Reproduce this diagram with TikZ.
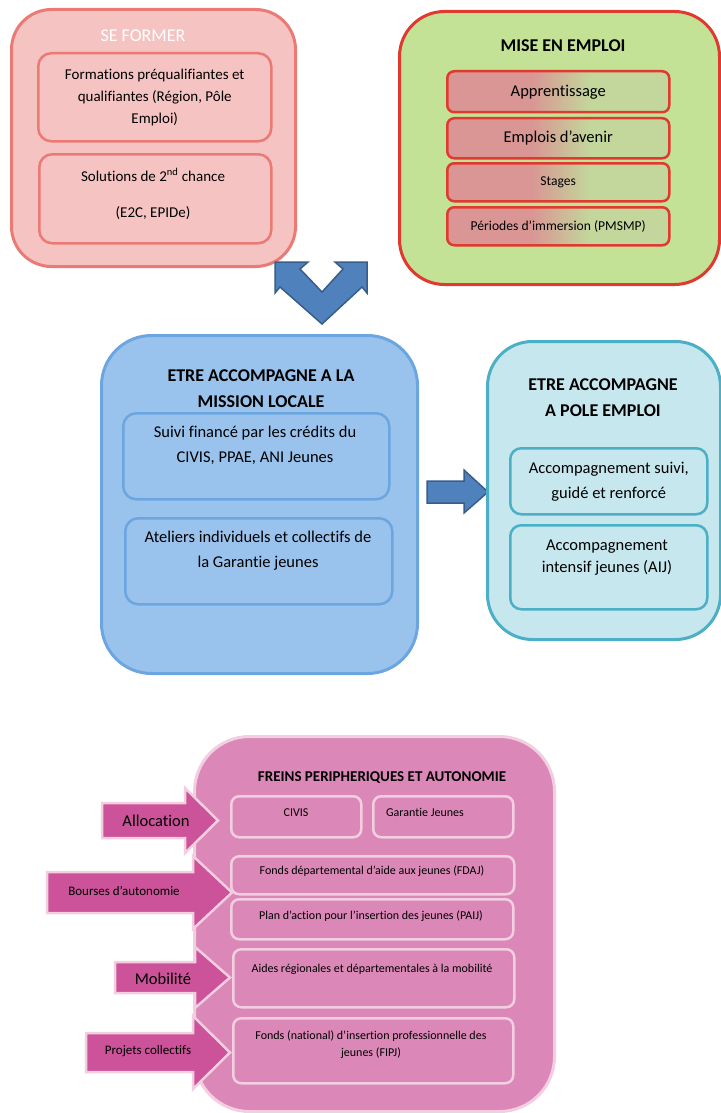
\documentclass[tikz,border=0pt]{standalone}
\usepackage{fontspec}
\setmainfont{Carlito}[Ligatures=NoCommon]

\definecolor{roseclair}{HTML}{F5C3C2}
\definecolor{saumon}{HTML}{EB7A75}
\definecolor{vertclair}{HTML}{C3E295}
\definecolor{rougevif}{HTML}{E0392F}
\definecolor{roseterne}{HTML}{D99694}
\definecolor{vertterne}{HTML}{C3D69B}
\definecolor{bleuclair}{HTML}{99C3EC}
\definecolor{bleubord}{HTML}{6CA6E0}
\definecolor{cyanclair}{HTML}{C6E7EE}
\definecolor{cyanbord}{HTML}{4BAFC6}
\definecolor{rosefonce}{HTML}{DB88B8}
\definecolor{rosepale}{HTML}{F2CEE0}
\definecolor{flecherose}{HTML}{CC5299}
\definecolor{bleufleche}{HTML}{4F81BD}
\definecolor{bleufonce}{HTML}{385D8A}

\pgfdeclarehorizontalshading{rosevert}{100bp}{color(0bp)=(roseterne); color(44bp)=(roseterne); color(57bp)=(vertterne); color(100bp)=(vertterne)}

\tikzset{
  cadre/.style={draw, anchor=north west, inner sep=0pt, line width=3pt},
  bloc/.style={draw, anchor=north west, inner sep=0pt, line width=2.5pt, rounded corners=13pt},
  txt/.style={align=center, inner sep=0pt, font=\fontsize{16.5}{25}\selectfont},
  titre/.style={align=center, inner sep=0pt, font=\bfseries\fontsize{18}{26}\selectfont},
  petit/.style={align=center, inner sep=0pt, font=\fontsize{12}{17}\selectfont},
  fleche/.style={fill=flecherose, draw=rosepale, line width=2.5pt},
  bleue/.style={fill=bleufleche, draw=bleufonce, line width=1.5pt}
}

\begin{document}
\begin{tikzpicture}[x=1pt,y=-1pt]
\useasboundingbox (0,0) rectangle (720,1113);

% se former
\node[cadre, fill=roseclair, draw=saumon, rounded corners=40pt, minimum width=284, minimum height=257] (seformer) at (10,8) {};
\node[titre, font=\fontsize{18}{26}\selectfont, text=white] (t-seformer) at (143,36) {SE FORMER};
\node[bloc, fill=roseclair, draw=saumon, minimum width=233, minimum height=88] (form1) at (37,52) {};
\node[txt, font=\fontsize{15}{22}\selectfont] (t-form1) at (form1.center) {Formations préqualifiantes et\\qualifiantes (Région, Pôle\\Emploi)};
\node[bloc, fill=roseclair, draw=saumon, minimum width=232, minimum height=89] (form2) at (38,153) {};
\node[txt, font=\fontsize{15}{22}\selectfont] (t-form2) at (153,194) {Solutions de 2\textsuperscript{nd} chance\\[14pt](E2C, EPIDe)};

% mise en emploi
\node[cadre, fill=vertclair, draw=rougevif, rounded corners=45pt, minimum width=320, minimum height=273] (emploi) at (398,10) {};
\node[titre] (t-emploi) at (563,46) {MISE EN EMPLOI};
\node[bloc, shade, shading=rosevert, draw=rougevif, rounded corners=7pt, minimum width=222, minimum height=41] (appr) at (446,70) {};
\node[txt] (t-appr) at (appr.center) {Apprentissage};
\node[bloc, shade, shading=rosevert, draw=rougevif, rounded corners=7pt, minimum width=222, minimum height=40] (avenir) at (446,117) {};
\node[txt] (t-avenir) at (avenir.center) {Emplois d’avenir};
\node[bloc, shade, shading=rosevert, draw=rougevif, rounded corners=7pt, minimum width=222, minimum height=38] (stages) at (446,162) {};
\node[txt, font=\fontsize{13.6}{18}\selectfont] (t-stages) at (stages.center) {Stages};
\node[bloc, shade, shading=rosevert, draw=rougevif, rounded corners=7pt, minimum width=222, minimum height=38] (pmsmp) at (446,206) {};
\node[txt, font=\fontsize{13.6}{18}\selectfont] (t-pmsmp) at (pmsmp.center) {Périodes d’immersion (PMSMP)};

\draw[bleue] (275,262) -- (308,262) -- (300,269) -- (322,292) -- (343,269) -- (335,262) -- (367,262) -- (367,293) -- (362,287) -- (322,324) -- (280,287) -- (275,293) -- cycle;

% mission locale
\node[cadre, fill=bleuclair, draw=bleubord, rounded corners=50pt, minimum width=316, minimum height=338] (mission) at (100,334) {};
\node[titre] (t-mission) at (261,389) {ETRE ACCOMPAGNE A LA\\MISSION LOCALE};
\node[bloc, fill=bleuclair, draw=bleubord, minimum width=266, minimum height=86] (suivi) at (122,412) {};
\node[txt] (t-suivi) at (255,445.5) {Suivi financé par les crédits du\\CIVIS, PPAE, ANI Jeunes};
\node[bloc, fill=bleuclair, draw=bleubord, minimum width=267, minimum height=86] (ateliers) at (124,517) {};
\node[txt] (t-ateliers) at (258,551) {Ateliers individuels et collectifs de\\la Garantie jeunes};

\draw[bleue] (427,481) -- (464,481) -- (464,470) -- (488,492) -- (464,513) -- (464,503) -- (427,503) -- cycle;

% pole emploi
\node[cadre, fill=cyanclair, draw=cyanbord, rounded corners=45pt, minimum width=233, minimum height=298] (pole) at (486,340) {};
\node[titre] (t-pole) at (603,397.5) {ETRE ACCOMPAGNE\\A POLE EMPLOI};
\node[bloc, fill=cyanclair, draw=cyanbord, rounded corners=11pt, minimum width=197, minimum height=66] (renforce) at (509,447) {};
\node[txt] (t-renforce) at (renforce.center) {Accompagnement suivi,\\guidé et renforcé};
\node[bloc, fill=cyanclair, draw=cyanbord, rounded corners=11pt, minimum width=197, minimum height=84] (aij) at (509,524) {};
\node[txt, font=\fontsize{16.5}{22}\selectfont] (t-aij) at (607,558) {Accompagnement\\intensif jeunes (AIJ)};

% freins
\node[cadre, fill=rosefonce, draw=rosepale, rounded corners=55pt, minimum width=360, minimum height=375] (freins) at (193,735) {};
\node[titre, font=\bfseries\fontsize{15}{20}\selectfont] (t-freins) at (382,778) {FREINS PERIPHERIQUES ET AUTONOMIE};

\draw[fleche] (102,803) -- (185,803) -- (185,788) -- (218,820.5) -- (185,853) -- (185,838) -- (102,838) -- cycle;
\node[txt] (allocation) at (156,821) {Allocation};
\draw[fleche] (47,872) -- (193,872) -- (193,856) -- (232,892.5) -- (193,929) -- (193,913) -- (47,913) -- cycle;
\node[txt, font=\fontsize{13}{17}\selectfont] (bourses) at (124,891) {Bourses d’autonomie};
\draw[fleche] (115,962) -- (195,962) -- (195,947) -- (230,977.5) -- (195,1008) -- (195,993) -- (115,993) -- cycle;
\node[txt] (mobilite) at (163,979) {Mobilité};
\draw[fleche] (86,1033) -- (193,1033) -- (193,1016) -- (230,1052.5) -- (193,1089) -- (193,1072) -- (86,1072) -- cycle;
\node[txt, font=\fontsize{13}{17}\selectfont] (projets) at (148,1051) {Projets collectifs};

\node[bloc, fill=rosefonce, draw=rosepale, rounded corners=8pt, minimum width=130, minimum height=41] (civis) at (230,795) {};
\node[petit] (t-civis) at (296,813) {CIVIS};
\node[bloc, fill=rosefonce, draw=rosepale, rounded corners=8pt, minimum width=140, minimum height=41] (garantie) at (372,795) {};
\node[petit] (t-garantie) at (425,812) {Garantie Jeunes};
\node[bloc, fill=rosefonce, draw=rosepale, rounded corners=8pt, minimum width=283, minimum height=38] (fdaj) at (230,855) {};
\node[petit] (t-fdaj) at (372,871) {Fonds départemental d’aide aux jeunes (FDAJ)};
\node[bloc, fill=rosefonce, draw=rosepale, rounded corners=8pt, minimum width=282, minimum height=40] (paij) at (230,898) {};
\node[petit] (t-paij) at (371,916) {Plan d’action pour l’insertion des jeunes (PAIJ)};
\node[bloc, fill=rosefonce, draw=rosepale, rounded corners=8pt, minimum width=281, minimum height=58] (aides) at (232,948) {};
\node[petit] (t-aides) at (372,969) {Aides régionales et départementales à la mobilité};
\node[bloc, fill=rosefonce, draw=rosepale, rounded corners=8pt, minimum width=280, minimum height=65] (fipj) at (232,1017) {};
\node[petit] (t-fipj) at (371,1044.5) {Fonds (national) d’insertion professionnelle des\\jeunes (FIPJ)};
\end{tikzpicture}
\end{document}
